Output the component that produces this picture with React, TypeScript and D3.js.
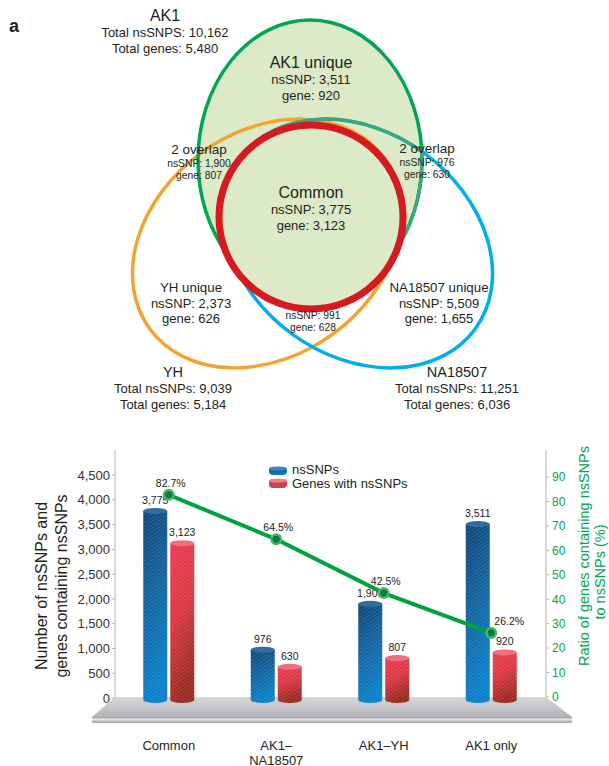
import React from 'react';
import * as d3 from 'd3';

// ---- Venn diagram data ----
const setNames = ['AK1', 'YH', 'NA18507'];
const setSNPLabels = ['Total nsSNPS', 'Total nsSNPs', 'Total nsSNPs'];
const setTotalSNPs = [10162, 9039, 11251];
const setTotalGenes = [5480, 5184, 6036];

const regionNames = ['AK1 unique', 'Common', '2 overlap', '2 overlap', 'YH unique', 'NA18507 unique', ''];
const regionSNPs = [3511, 3775, 1900, 976, 2373, 5509, 991];
const regionGenes = [920, 3123, 807, 630, 626, 1655, 628];

// ---- Bar chart data ----
const categories = ['Common', 'AK1–NA18507', 'AK1–YH', 'AK1 only'];
const categoryLines = [['Common'], ['AK1–', 'NA18507'], ['AK1–YH'], ['AK1 only']];
const nsSNPs = [3775, 976, 1900, 3511];
const genesWithNsSNPs = [3123, 630, 807, 920];
const geneRatio = [82.7, 64.5, 42.5, 26.2];
const countTicks = [0, 500, 1000, 1500, 2000, 2500, 3000, 3500, 4000, 4500];
const ratioTicks = [0, 10, 20, 30, 40, 50, 60, 70, 80, 90];
const legendLabels = ['nsSNPs', 'Genes with nsSNPs'];

// ---- styling / layout ----
const FONT = '"Liberation Sans", Arial, Helvetica, sans-serif';
const TXT = '#231f20';
const GREEN = '#00a651';
const fmt = d3.format(',');

const setLayout = [
  { x: 165, y: 21, size: 16 },
  { x: 173, y: 377, size: 14.5 },
  { x: 457, y: 377, size: 14.5 },
];
const regionLayout = [
  { x: 311, y: 68, title: 16, body: 13, lh: 16 },
  { x: 311, y: 198, title: 16, body: 13, lh: 16 },
  { x: 199, y: 154, title: 13.5, body: 10.3, lh: 12.5 },
  { x: 427, y: 153, title: 13.5, body: 10.3, lh: 12.5 },
  { x: 191, y: 292, title: 13.3, body: 13, lh: 15.5 },
  { x: 439, y: 292, title: 13.3, body: 13, lh: 15.5 },
  { x: 313, y: 307, title: 0, body: 10.3, lh: 12 },
];

const vGreen = { cx: 310, cy: 160, rx: 112, ry: 140 };
const vOrange = { cx: 267, cy: 243.5, rx: 145, ry: 112, rot: -36 };
const vBlue = { cx: 358, cy: 243.5, rx: 145, ry: 112, rot: 36 };
const vRed = { cx: 311, cy: 217, r: 92 };
const VENN_FILL = '#ddeac7';

// chart geometry
const X0 = 115;
const X1 = 545;
const BASE = 700;
const BAR_W = 24;
const GAP = 1.5;

const x = d3.scaleBand<string>().domain(categories).range([X0, X1]);
const yCount = d3.scaleLinear().domain([0, 4500]).range([698, 475]);
const yRatio = d3.scaleLinear().domain([0, 90]).range([697, 477]);

function Cylinder({ x0, top, grad, cap }: { x0: number; top: number; grad: string; cap: string }) {
  const w = BAR_W;
  const body = `M${x0},${top} L${x0},${BASE} A${w / 2},3 0 0 0 ${x0 + w},${BASE} L${x0 + w},${top} Z`;
  return (
    <g>
      <path d={body} fill={`url(#${grad})`} />
      <path d={body} fill="url(#stripes)" opacity={0.2} />
      <ellipse cx={x0 + w / 2} cy={top} rx={w / 2} ry={3} fill={cap} />
    </g>
  );
}

export default function App() {
  const groupCenter = (c: string) => (x(c) as number) + x.bandwidth() / 2;
  const ratioLine = d3
    .line<number>()
    .x((_, i) => groupCenter(categories[i]))
    .y((d) => yRatio(d));

  return (
    <svg
      width={609}
      height={766}
      viewBox="0 0 609 766"
      style={{ position: 'absolute', left: 0, top: 0, background: '#fff' }}
      fontFamily={FONT}
    >
      <defs>
        <clipPath id="clipGreen">
          <ellipse cx={vGreen.cx} cy={vGreen.cy} rx={vGreen.rx} ry={vGreen.ry} />
        </clipPath>
        <clipPath id="clipBlue">
          <ellipse
            cx={vBlue.cx}
            cy={vBlue.cy}
            rx={vBlue.rx}
            ry={vBlue.ry}
            transform={`rotate(${vBlue.rot},${vBlue.cx},${vBlue.cy})`}
          />
        </clipPath>
        <linearGradient id="gBlue" x1="0" y1="0" x2="0.25" y2="1">
          <stop offset="0" stopColor="#0e4576" />
          <stop offset="0.5" stopColor="#13639f" />
          <stop offset="1" stopColor="#0880cb" />
        </linearGradient>
        <linearGradient id="gRed" x1="0" y1="0" x2="0.25" y2="1">
          <stop offset="0" stopColor="#ec3a52" />
          <stop offset="0.5" stopColor="#d93744" />
          <stop offset="1" stopColor="#9a2a1f" />
        </linearGradient>
        <linearGradient id="gFloor" x1="0" y1="0" x2="0" y2="1">
          <stop offset="0" stopColor="#d6d7d9" />
          <stop offset="1" stopColor="#b3b4b7" />
        </linearGradient>
        <linearGradient id="gSlab" x1="0" y1="0" x2="0" y2="1">
          <stop offset="0" stopColor="#8e8f92" />
          <stop offset="0.35" stopColor="#ececec" />
          <stop offset="1" stopColor="#9c9da0" />
        </linearGradient>
        <pattern
          id="stripes"
          width={4}
          height={3}
          patternUnits="userSpaceOnUse"
          patternTransform="rotate(-32)"
        >
          <line x1={0} y1={0.5} x2={4} y2={0.5} stroke="#ffffff" strokeWidth={0.6} />
        </pattern>
      </defs>

      {/* ---------------- Venn diagram ---------------- */}
      <text x={9} y={32} fontSize={18} fontWeight="bold" fill={TXT}>
        a
      </text>

      <ellipse cx={vGreen.cx} cy={vGreen.cy} rx={vGreen.rx} ry={vGreen.ry} fill={VENN_FILL} />
      <ellipse
        cx={vOrange.cx}
        cy={vOrange.cy}
        rx={vOrange.rx}
        ry={vOrange.ry}
        transform={`rotate(${vOrange.rot},${vOrange.cx},${vOrange.cy})`}
        fill="none"
        stroke="#f2a431"
        strokeWidth={3.5}
      />
      <ellipse
        cx={vBlue.cx}
        cy={vBlue.cy}
        rx={vBlue.rx}
        ry={vBlue.ry}
        transform={`rotate(${vBlue.rot},${vBlue.cx},${vBlue.cy})`}
        fill="none"
        stroke="#00aeef"
        strokeWidth={3.5}
      />
      <ellipse
        cx={vGreen.cx}
        cy={vGreen.cy}
        rx={vGreen.rx}
        ry={vGreen.ry}
        fill="none"
        stroke={GREEN}
        strokeWidth={3.5}
      />
      {/* blended stroke where the blue set runs inside the green set */}
      <g clipPath="url(#clipGreen)">
        <ellipse
          cx={vBlue.cx}
          cy={vBlue.cy}
          rx={vBlue.rx}
          ry={vBlue.ry}
          transform={`rotate(${vBlue.rot},${vBlue.cx},${vBlue.cy})`}
          fill="none"
          stroke="#3ea67c"
          strokeWidth={3.5}
        />
      </g>
      <g clipPath="url(#clipBlue)">
        <ellipse
          cx={vGreen.cx}
          cy={vGreen.cy}
          rx={vGreen.rx}
          ry={vGreen.ry}
          fill="none"
          stroke="#3ea67c"
          strokeWidth={3.5}
        />
      </g>
      <circle cx={vRed.cx} cy={vRed.cy} r={vRed.r} fill={VENN_FILL} stroke="#d71920" strokeWidth={7} />

      {setNames.map((name, i) => {
        const L = setLayout[i];
        return (
          <g key={name} textAnchor="middle" fill={TXT}>
            <text x={L.x} y={L.y} fontSize={L.size}>
              {name}
            </text>
            <text x={L.x} y={L.y + 16} fontSize={13}>
              {`${setSNPLabels[i]}: ${fmt(setTotalSNPs[i])}`}
            </text>
            <text x={L.x} y={L.y + 32} fontSize={13}>
              {`Total genes: ${fmt(setTotalGenes[i])}`}
            </text>
          </g>
        );
      })}

      {regionNames.map((name, i) => {
        const L = regionLayout[i];
        return (
          <g key={i} textAnchor="middle" fill={TXT}>
            {name && (
              <text x={L.x} y={L.y} fontSize={L.title}>
                {name}
              </text>
            )}
            <text x={L.x} y={L.y + L.lh} fontSize={L.body}>
              {`nsSNP: ${fmt(regionSNPs[i])}`}
            </text>
            <text x={L.x} y={L.y + 2 * L.lh} fontSize={L.body}>
              {`gene: ${fmt(regionGenes[i])}`}
            </text>
          </g>
        );
      })}

      {/* ---------------- Bar chart ---------------- */}
      {/* floor */}
      <polygon points={`${X0},697 546,697 572,717 92,717`} fill="url(#gFloor)" />
      <rect x={92} y={717} width={480} height={6} fill="url(#gSlab)" />

      {/* left axis */}
      <line x1={X0} x2={X0} y1={450} y2={697} stroke="#b3b3b3" strokeWidth={1} />
      {countTicks.map((t) => (
        <g key={t}>
          <line x1={X0 - 3} x2={X0} y1={yCount(t)} y2={yCount(t)} stroke="#b3b3b3" />
          <text
            x={110}
            y={yCount(t)}
            dy="0.36em"
            textAnchor="end"
            fontSize={13}
            fill="#333"
          >
            {fmt(t)}
          </text>
        </g>
      ))}
      <g fill={TXT} fontSize={16} textAnchor="middle">
        <text transform="translate(47,586) rotate(-90)">Number of nsSNPs and</text>
        <text transform="translate(67,586) rotate(-90)">genes containing nsSNPs</text>
      </g>

      {/* right axis */}
      <line x1={546} x2={546} y1={450} y2={697} stroke="#b3b3b3" strokeWidth={1} />
      {ratioTicks.map((t) => (
        <g key={t}>
          <line x1={546} x2={549} y1={yRatio(t)} y2={yRatio(t)} stroke="#b3b3b3" />
          <text x={552} y={yRatio(t)} dy="0.36em" fontSize={12} fill={GREEN}>
            {t}
          </text>
        </g>
      ))}
      <g fill={GREEN} fontSize={14.5} textAnchor="middle">
        <text transform="translate(589,556) rotate(-90)">Ratio of genes containing nsSNPs</text>
        <text transform="translate(605,572) rotate(-90)">to nsSNPs (%)</text>
      </g>

      {/* bars */}
      {categories.map((c, i) => {
        const gc = groupCenter(c);
        const bx = gc - GAP - BAR_W;
        const rx = gc + GAP;
        const bt = yCount(nsSNPs[i]);
        const rt = yCount(genesWithNsSNPs[i]);
        return (
          <g key={c}>
            <Cylinder x0={bx} top={bt} grad="gBlue" cap="#2f6e9f" />
            <Cylinder x0={rx} top={rt} grad="gRed" cap="#ef6f7c" />
            <text x={bx + BAR_W / 2} y={bt - 7} textAnchor="middle" fontSize={10.5} fill="#222">
              {fmt(nsSNPs[i])}
            </text>
            <text x={rx + BAR_W / 2} y={rt - 7} textAnchor="middle" fontSize={10.5} fill="#222">
              {fmt(genesWithNsSNPs[i])}
            </text>
          </g>
        );
      })}

      {/* ratio line */}
      <path d={ratioLine(geneRatio) || ''} fill="none" stroke="#00a23e" strokeWidth={4} />
      {geneRatio.map((r, i) => {
        const cx = groupCenter(categories[i]);
        const cy = yRatio(r);
        const last = i === geneRatio.length - 1;
        return (
          <g key={i}>
            <circle cx={cx} cy={cy} r={6} fill="#45b86c" />
            <circle cx={cx} cy={cy} r={3.6} fill="#0b7d3b" />
            <text
              x={last ? cx + 18 : cx + 2}
              y={cy - 8}
              textAnchor="middle"
              fontSize={10.5}
              fill="#222"
            >
              {`${r.toFixed(1)}%`}
            </text>
          </g>
        );
      })}

      {/* legend */}
      <g>
        <rect x={269} y={467} width={18} height={8} rx={4} fill="url(#gBlue)" />
        <ellipse cx={278} cy={468.5} rx={9} ry={2} fill="#3f86c0" />
        <rect x={269} y={479} width={18} height={9} rx={4} fill="#c9424d" />
        <ellipse cx={278} cy={480.5} rx={9} ry={2} fill="#ef8088" />
        <text x={292} y={474} fontSize={13} fill={TXT}>
          {legendLabels[0]}
        </text>
        <text x={292} y={488} fontSize={13} fill={TXT}>
          {legendLabels[1]}
        </text>
      </g>

      {/* category labels */}
      {categories.map((c, i) => (
        <text key={c} x={groupCenter(c)} y={750} textAnchor="middle" fontSize={13} fill={TXT}>
          {categoryLines[i].map((line, j) => (
            <tspan key={j} x={groupCenter(c)} dy={j === 0 ? 0 : 14.5}>
              {line}
            </tspan>
          ))}
        </text>
      ))}
    </svg>
  );
}
